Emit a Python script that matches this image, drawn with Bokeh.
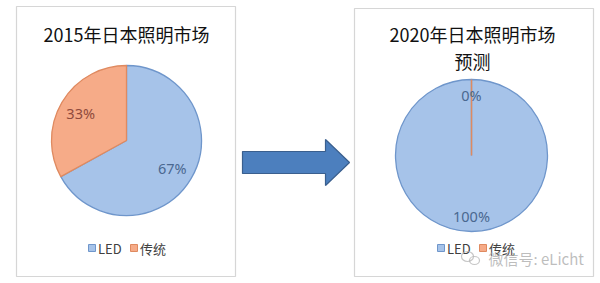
import math
from bokeh.plotting import figure
from bokeh.models import Range1d
from bokeh.core.properties import value
from bokeh.embed import file_html
from bokeh.resources import INLINE

# ---- data ----
categories = ["LED", "传统"]
share_2015 = [67, 33]
share_2020 = [100, 0]
titles_2015 = ["2015年日本照明市场"]
titles_2020 = ["2020年日本照明市场", "预测"]

W, H = 600, 283
FILL = {"LED": "#a6c3e9", "传统": "#f6ab88"}
EDGE = {"LED": "#6f96cb", "传统": "#df8a60"}
LABEL_COLOR = {"LED": "#4a6890", "传统": "#8f4a3c"}
CJK = value("Noto Sans CJK SC")


def Y(yp):
    # pixel row (top-down) to data y (bottom-up)
    return H - yp


p = figure(width=W, height=H, x_range=Range1d(0, W), y_range=Range1d(0, H),
           output_backend="svg", toolbar_location=None, min_border=0)
p.axis.visible = False
p.grid.visible = False
p.outline_line_color = None
p.background_fill_color = "white"
p.border_fill_color = "white"


def panel(x0, x1, y0, y1):
    p.quad(left=x0, right=x1, top=Y(y0), bottom=Y(y1),
           fill_color="white", line_color="#d6d6d6", line_width=1.2)


def pie(cx, cy, r, shares, label_f):
    total = float(sum(shares))
    start = math.pi / 2
    labels = []
    for cat, v in zip(categories, shares):
        frac = v / total
        sweep = 2 * math.pi * frac
        end = start - sweep
        if frac >= 0.9999:
            # full disc: leave a hair-thin gap so the arc is still drawn
            end = start - 2 * math.pi * 0.99999
        if frac > 0:
            p.wedge(x=cx, y=Y(cy), radius=r, start_angle=end, end_angle=start,
                    fill_color=FILL[cat], line_color=EDGE[cat], line_width=1.3)
        else:
            # zero-size slice shows only its border along the start angle
            p.segment(x0=cx, y0=Y(cy), x1=cx + r * math.cos(start),
                      y1=Y(cy) + r * math.sin(start),
                      line_color=EDGE[cat], line_width=1.5)
        mid = start - sweep / 2
        labels.append((cat, v, mid))
        start = end if frac < 0.9999 else start - sweep
    for cat, v, mid in labels:
        lx = cx + label_f * r * math.cos(mid)
        ly = Y(cy) + label_f * r * math.sin(mid)
        color = LABEL_COLOR["LED" if cat == "LED" or v == 0 else cat]
        p.text(x=[lx], y=[ly], text=[f"{v}%"], text_align="center",
               text_baseline="middle", text_font=value("Noto Sans"),
               text_font_size="14.5px", text_color=color)


def legend(x, yp):
    for cat in categories:
        p.quad(left=x, right=x + 7, top=Y(yp - 3.5), bottom=Y(yp + 3.5),
               fill_color=FILL[cat], line_color=EDGE[cat], line_width=1)
        p.text(x=[x + 9.5], y=[Y(yp)], text=[cat], text_align="left",
               text_baseline="middle", text_font=CJK, text_font_size="13px",
               text_color="#404040")
        x += 42 if cat == "LED" else 0


def titles(cx, yp, lines):
    for i, t in enumerate(lines):
        p.text(x=[cx], y=[Y(yp + i * 27)], text=[t], text_align="center",
               text_baseline="middle", text_font=CJK, text_font_size="18px",
               text_color="#111111")


# left panel: 2015
panel(16, 235, 6, 276)
titles(126, 33, titles_2015)
pie(126, 140, 75, share_2015, 0.71)
legend(88, 247.5)

# right panel: 2020 forecast
panel(354, 593, 8, 276)
titles(472, 33, titles_2020)
pie(471, 155, 76, share_2020, 0.79)
legend(437, 247.5)

# arrow between the panels
ax0, ax1, ahead = 242, 349, 325
ay, body_h, head_h = 162, 22, 46
p.patch(x=[ax0, ahead, ahead, ax1, ahead, ahead, ax0],
        y=[Y(ay - body_h / 2), Y(ay - body_h / 2), Y(ay - head_h / 2), Y(ay),
           Y(ay + head_h / 2), Y(ay + body_h / 2), Y(ay + body_h / 2)],
        fill_color="#4c7fbe", line_color="#3a5f8e", line_width=1.2)

# account watermark
p.ellipse(x=[467, 474], y=[Y(256), Y(260)], width=[12, 10], height=[10, 8],
          fill_color=None, line_color="#b8b8b8", line_width=1.2, line_alpha=0.8)
p.text(x=[488], y=[Y(258)], text=["微信号: eLicht"], text_align="left",
       text_baseline="middle", text_font=CJK, text_font_size="15px",
       text_color="#a8a8a8", text_alpha=0.75)

open("out.html", "w").write(file_html(p, INLINE))
